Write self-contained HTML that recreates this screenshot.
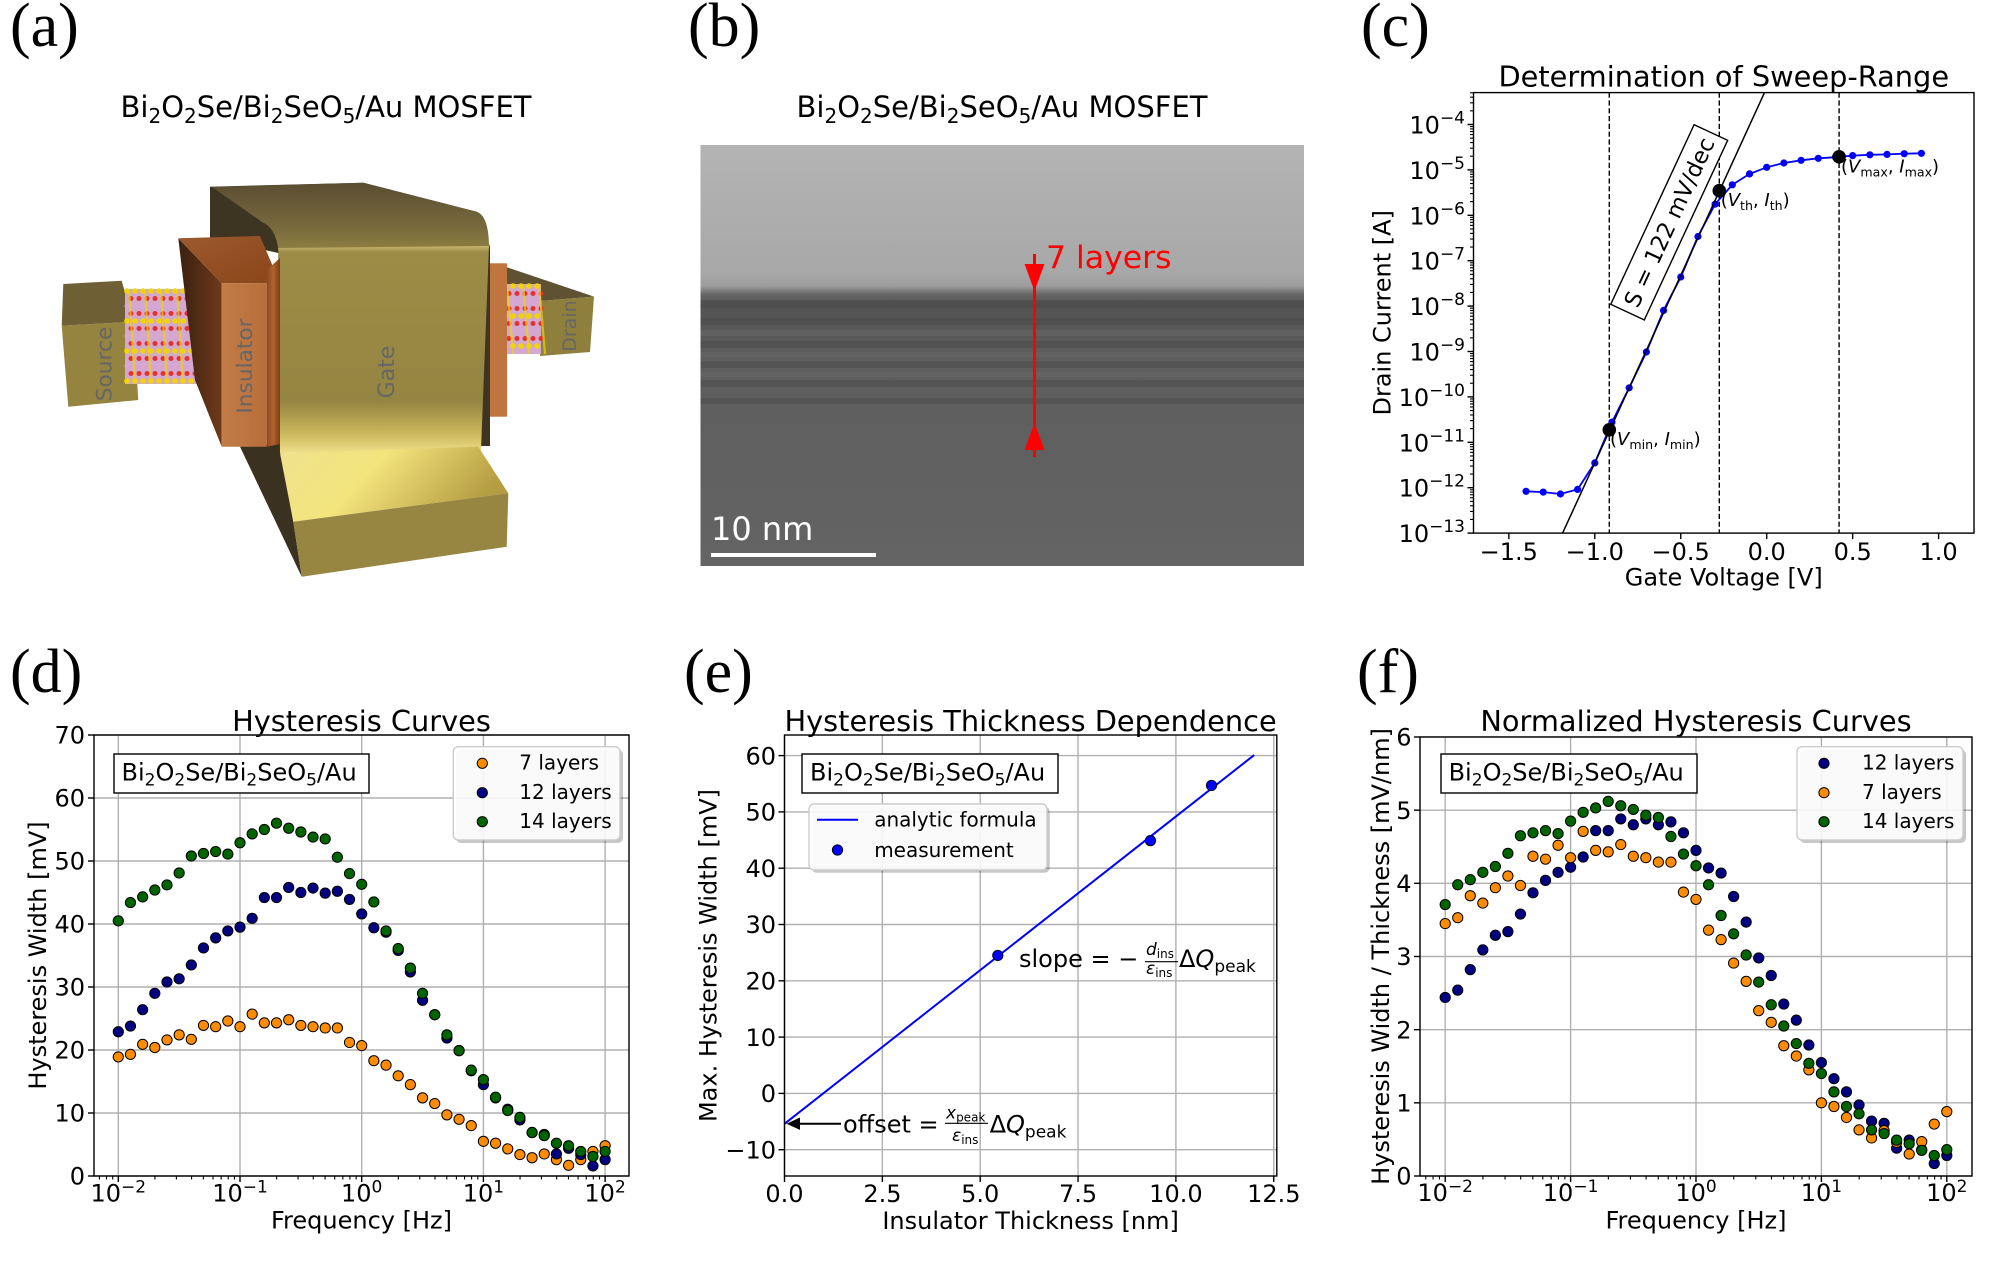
<!DOCTYPE html>
<html><head><meta charset="utf-8"><style>
html,body{margin:0;padding:0;background:#fff;}
svg{display:block;}
text{font-family:"DejaVu Sans","Liberation Sans",sans-serif;fill:#000;}
.serif{font-family:"Liberation Serif","DejaVu Serif",serif;}
</style></head><body>
<svg id="s" width="2000" height="1263" viewBox="0 0 2000 1263" xmlns="http://www.w3.org/2000/svg">
<defs>
<linearGradient id="tem" x1="0" y1="0" x2="0" y2="1">
<stop offset="0" stop-color="#b4b4b4"/><stop offset="0.3" stop-color="#a8a8a8"/><stop offset="0.335" stop-color="#9d9d9d"/><stop offset="0.355" stop-color="#666"/><stop offset="0.38" stop-color="#535353"/><stop offset="0.5" stop-color="#5d5d5d"/><stop offset="1" stop-color="#646464"/>
</linearGradient>
<linearGradient id="gtop" x1="0" y1="0" x2="0" y2="1"><stop offset="0" stop-color="#5a4d32"/><stop offset="0.7" stop-color="#7a6b3d"/><stop offset="1" stop-color="#8f7f42"/></linearGradient>
<linearGradient id="gfront" x1="0" y1="0" x2="0" y2="1"><stop offset="0" stop-color="#c9b86c"/><stop offset="0.03" stop-color="#9c8c46"/><stop offset="0.75" stop-color="#958542"/><stop offset="0.9" stop-color="#c9b55a"/><stop offset="1" stop-color="#efe08a"/></linearGradient>
<linearGradient id="foottop" x1="0" y1="0" x2="1" y2="0.3"><stop offset="0" stop-color="#efe28e"/><stop offset="0.45" stop-color="#f3e47c"/><stop offset="1" stop-color="#b59d42"/></linearGradient>
<linearGradient id="insleft" x1="0" y1="0" x2="1" y2="0"><stop offset="0" stop-color="#3a1f10"/><stop offset="1" stop-color="#6e3a1a"/></linearGradient>
<linearGradient id="instop" x1="0" y1="0" x2="1" y2="1"><stop offset="0" stop-color="#9c5a2e"/><stop offset="1" stop-color="#8a4518"/></linearGradient>
<linearGradient id="insfront" x1="0" y1="0" x2="1" y2="0"><stop offset="0" stop-color="#c27c48"/><stop offset="1" stop-color="#b86e3a"/></linearGradient>
<linearGradient id="insstrip" x1="0" y1="0" x2="1" y2="0"><stop offset="0" stop-color="#8a4820"/><stop offset="0.5" stop-color="#b0622c"/><stop offset="1" stop-color="#7a3c18"/></linearGradient>
<clipPath id="cclip"><rect x="1473.5" y="92.6" width="500.5" height="440.5"/></clipPath>
</defs>

<!-- panel labels -->
<text class="serif" x="10" y="46" font-size="62">(a)</text>
<text class="serif" x="688" y="46" font-size="62">(b)</text>
<text class="serif" x="1361" y="46" font-size="62">(c)</text>
<text class="serif" x="10" y="692" font-size="62">(d)</text>
<text class="serif" x="684" y="692" font-size="62">(e)</text>
<text class="serif" x="1357" y="692" font-size="62">(f)</text>

<!-- ===== (a) ===== -->
<text x="326" y="117" text-anchor="middle" font-size="29">Bi<tspan font-size="20" dy="6">2</tspan><tspan dy="-6">O</tspan><tspan font-size="20" dy="6">2</tspan><tspan dy="-6">Se/Bi</tspan><tspan font-size="20" dy="6">2</tspan><tspan dy="-6">SeO</tspan><tspan font-size="20" dy="6">5</tspan><tspan dy="-6">/Au MOSFET</tspan></text>
<g id="pa">
<polygon points="63.3,284 121.7,280.7 133.3,321.7 61.7,325.7" fill="#6e6034"/>
<polygon points="61.7,325.7 133.3,321.7 138.3,400 68.3,406.7" fill="#958340"/>
<polygon points="503,266 594,296.6 540,301 503,288" fill="#5f5232"/>
<polygon points="540,301 594,296.6 590,352 540,356" fill="#8f7f3d"/>
<g id="atomsL"></g>
<g id="atomsR"></g>
<rect x="484" y="263.3" width="23" height="153.4" fill="#c07540"/>
<polygon points="210,186.7 363.3,182.7 476.7,211.7 490,246.7 490,446 278.3,446 278.3,253 210,238" fill="#3e3422"/>
<path d="M212,187 L363.3,182.7 L476.7,211.7 Q489,216 489,248 L278.3,250 Q276,228 262,222 Z" fill="url(#gtop)"/>
<polygon points="240,446.7 280,443.3 293.3,521.7 301.7,576.7" fill="#3b3120"/>
<polygon points="278.3,248 489,246 481,450 280,453" fill="url(#gfront)"/>
<polygon points="280,453.3 478.3,446.7 508.3,493.3 293.3,521.7" fill="url(#foottop)"/>
<polygon points="293.3,521.7 508.3,493.3 506.7,546.7 301.7,576.7" fill="#978641"/>
<polygon points="178.3,238.3 221.7,283.3 221.7,446.7 195,380" fill="url(#insleft)"/>
<polygon points="178.3,238.3 260,236 280,283.3 221.7,283.3" fill="url(#instop)"/>
<polygon points="221.7,283.3 266.7,283.3 266.7,446.7 221.7,446.7" fill="url(#insfront)"/>
<polygon points="266.7,270 280,258 280,444 266.7,446.7" fill="url(#insstrip)"/>
<text transform="translate(111.5,364) rotate(-90)" text-anchor="middle" font-size="21.7" style="fill:#666">Source</text>
<text transform="translate(252,366) rotate(-90)" text-anchor="middle" font-size="21.7" style="fill:#666">Insulator</text>
<text transform="translate(394,372) rotate(-90)" text-anchor="middle" font-size="22" style="fill:#666">Gate</text>
<text transform="translate(576,326) rotate(-90)" text-anchor="middle" font-size="19" style="fill:#666">Drain</text>
</g>

<!-- ===== (b) ===== -->
<text x="1002" y="117" text-anchor="middle" font-size="29">Bi<tspan font-size="20" dy="6">2</tspan><tspan dy="-6">O</tspan><tspan font-size="20" dy="6">2</tspan><tspan dy="-6">Se/Bi</tspan><tspan font-size="20" dy="6">2</tspan><tspan dy="-6">SeO</tspan><tspan font-size="20" dy="6">5</tspan><tspan dy="-6">/Au MOSFET</tspan></text>
<rect x="700.5" y="145" width="603.5" height="421" fill="url(#tem)"/>
<g fill="#474747" opacity="0.4">
<rect x="700.5" y="300" width="603.5" height="8"/>
<rect x="700.5" y="318" width="603.5" height="7"/>
<rect x="700.5" y="341" width="603.5" height="7"/>
<rect x="700.5" y="361" width="603.5" height="7"/>
<rect x="700.5" y="380" width="603.5" height="7"/>
<rect x="700.5" y="398" width="603.5" height="6"/>
</g>
<g fill="#707070" opacity="0.3">
<rect x="700.5" y="330" width="603.5" height="6"/>
<rect x="700.5" y="352" width="603.5" height="5"/>
<rect x="700.5" y="372" width="603.5" height="5"/>
</g>
<line x1="1034.5" y1="254" x2="1034.5" y2="457" stroke="#ff0000" stroke-width="3"/>
<polygon points="1024.5,264 1044.5,264 1034.5,291" fill="#ff0000"/>
<polygon points="1024.5,450 1044.5,450 1034.5,423" fill="#ff0000"/>
<text x="1046" y="268" font-size="31.5" style="fill:#ff0000">7 layers</text>
<text x="711" y="540" font-size="32" style="fill:#ffffff">10 nm</text>
<rect x="711" y="553" width="165" height="4" fill="#ffffff"/>

<!-- ===== (c) ===== -->
<text x="1723.75" y="86.5" text-anchor="middle" font-size="28.8">Determination of Sweep-Range</text>
<g id="pc"></g>
<g transform="translate(1669.2,222.3) rotate(-65.1)"><rect x="-99" y="-18.5" width="198" height="37" fill="#fff" stroke="#000" stroke-width="1.4"/><text x="0" y="8" text-anchor="middle" font-size="22.6">S = 122 mV/dec</text></g>
<g id="pc2"></g>
<text x="1841" y="172.7" font-size="18">(<tspan font-style="italic">V</tspan><tspan font-size="12.6" dy="4">max</tspan><tspan dy="-4">, </tspan><tspan font-style="italic">I</tspan><tspan font-size="12.6" dy="4">max</tspan><tspan dy="-4">)</tspan></text>
<text x="1720.7" y="206" font-size="18">(<tspan font-style="italic">V</tspan><tspan font-size="12.6" dy="4">th</tspan><tspan dy="-4">, </tspan><tspan font-style="italic">I</tspan><tspan font-size="12.6" dy="4">th</tspan><tspan dy="-4">)</tspan></text>
<text x="1610" y="444.8" font-size="18">(<tspan font-style="italic">V</tspan><tspan font-size="12.6" dy="4">min</tspan><tspan dy="-4">, </tspan><tspan font-style="italic">I</tspan><tspan font-size="12.6" dy="4">min</tspan><tspan dy="-4">)</tspan></text>
<g font-size="24" text-anchor="end">
<text x="1465" y="133.5">10<tspan dy="-10" font-size="17">−4</tspan></text>
<text x="1465" y="178.9">10<tspan dy="-10" font-size="17">−5</tspan></text>
<text x="1465" y="224.3">10<tspan dy="-10" font-size="17">−6</tspan></text>
<text x="1465" y="269.7">10<tspan dy="-10" font-size="17">−7</tspan></text>
<text x="1465" y="315.1">10<tspan dy="-10" font-size="17">−8</tspan></text>
<text x="1465" y="360.5">10<tspan dy="-10" font-size="17">−9</tspan></text>
<text x="1465" y="405.9">10<tspan dy="-10" font-size="17">−10</tspan></text>
<text x="1465" y="451.3">10<tspan dy="-10" font-size="17">−11</tspan></text>
<text x="1465" y="496.7">10<tspan dy="-10" font-size="17">−12</tspan></text>
<text x="1465" y="542.1">10<tspan dy="-10" font-size="17">−13</tspan></text>
</g>
<g font-size="24" text-anchor="middle">
<text x="1508.8" y="560">−1.5</text>
<text x="1594.8" y="560">−1.0</text>
<text x="1680.7" y="560">−0.5</text>
<text x="1766.7" y="560">0.0</text>
<text x="1852.7" y="560">0.5</text>
<text x="1938.6" y="560">1.0</text>
</g>
<text x="1723.75" y="585.5" text-anchor="middle" font-size="24">Gate Voltage [V]</text>
<text transform="translate(1390.5,312.8) rotate(-90)" text-anchor="middle" font-size="24">Drain Current [A]</text>

<!-- ===== (d) ===== -->
<text x="361.5" y="731" text-anchor="middle" font-size="28.8">Hysteresis Curves</text>
<g id="pd"></g>
<rect x="114" y="754" width="255" height="39" fill="#fff" stroke="#000" stroke-width="1.4"/>
<text x="121.5" y="780.7" font-size="24">Bi<tspan font-size="17" dy="5">2</tspan><tspan dy="-5">O</tspan><tspan font-size="17" dy="5">2</tspan><tspan dy="-5">Se/Bi</tspan><tspan font-size="17" dy="5">2</tspan><tspan dy="-5">SeO</tspan><tspan font-size="17" dy="5">5</tspan><tspan dy="-5">/Au</tspan></text>
<rect x="456" y="749.5" width="167" height="93.5" rx="5" fill="#000" opacity="0.22"/>
<rect x="453.3" y="746.7" width="166.7" height="93.3" rx="5" fill="#fff" fill-opacity="0.9" stroke="#cccccc" stroke-width="1.4"/>
<circle cx="482.3" cy="763.3" r="5.1" fill="#ff8c00" stroke="#000" stroke-width="1"/>
<circle cx="482.3" cy="792.7" r="5.1" fill="#000080" stroke="#000" stroke-width="1"/>
<circle cx="482.3" cy="821.7" r="5.1" fill="#006400" stroke="#000" stroke-width="1"/>
<g font-size="20"><text x="519.3" y="769.6">7 layers</text><text x="519.3" y="799">12 layers</text><text x="519.3" y="828">14 layers</text></g>
<g font-size="24" text-anchor="end">
<text x="85" y="1184.7">0</text><text x="85" y="1121.7">10</text><text x="85" y="1058.7">20</text><text x="85" y="995.7">30</text><text x="85" y="932.7">40</text><text x="85" y="869.7">50</text><text x="85" y="806.7">60</text><text x="85" y="743.7">70</text>
</g>
<g font-size="24" text-anchor="middle">
<text x="118.3" y="1201.5">10<tspan dy="-9" font-size="17">−2</tspan></text>
<text x="240" y="1201.5">10<tspan dy="-9" font-size="17">−1</tspan></text>
<text x="361.7" y="1201.5">10<tspan dy="-9" font-size="17">0</tspan></text>
<text x="483.4" y="1201.5">10<tspan dy="-9" font-size="17">1</tspan></text>
<text x="605.1" y="1201.5">10<tspan dy="-9" font-size="17">2</tspan></text>
</g>
<text x="361.5" y="1228.5" text-anchor="middle" font-size="24">Frequency [Hz]</text>
<text transform="translate(46,955.5) rotate(-90)" text-anchor="middle" font-size="24">Hysteresis Width [mV]</text>

<!-- ===== (e) ===== -->
<text x="1030.6" y="731" text-anchor="middle" font-size="28.8">Hysteresis Thickness Dependence</text>
<g id="pe"></g>
<rect x="802" y="754" width="256" height="39" fill="#fff" stroke="#000" stroke-width="1.4"/>
<text x="810" y="780.7" font-size="24">Bi<tspan font-size="17" dy="5">2</tspan><tspan dy="-5">O</tspan><tspan font-size="17" dy="5">2</tspan><tspan dy="-5">Se/Bi</tspan><tspan font-size="17" dy="5">2</tspan><tspan dy="-5">SeO</tspan><tspan font-size="17" dy="5">5</tspan><tspan dy="-5">/Au</tspan></text>
<rect x="811.7" y="806.7" width="238" height="66" rx="5" fill="#000" opacity="0.22"/>
<rect x="809" y="804" width="238" height="66" rx="5" fill="#fff" fill-opacity="0.9" stroke="#cccccc" stroke-width="1.4"/>
<line x1="817" y1="819.7" x2="858" y2="819.7" stroke="#0000ff" stroke-width="2"/>
<circle cx="837.5" cy="850" r="5.1" fill="#0000ff" stroke="#000020" stroke-width="1"/>
<g font-size="20"><text x="874.2" y="826.5">analytic formula</text><text x="874.2" y="857">measurement</text></g>
<!-- slope formula -->
<text x="1019" y="967" font-size="24">slope = −</text>
<text x="1146" y="955" font-size="17" font-style="italic">d<tspan font-size="12" font-style="normal" dy="3">ins</tspan></text>
<line x1="1145" y1="961.7" x2="1178" y2="961.7" stroke="#000" stroke-width="1.2"/>
<text x="1146" y="974" font-size="17" font-style="italic">ε<tspan font-size="12" font-style="normal" dy="3">ins</tspan></text>
<text x="1179" y="967" font-size="24">Δ<tspan font-style="italic">Q</tspan><tspan font-size="17" dy="5">peak</tspan></text>
<!-- offset formula -->
<line x1="841" y1="1123.7" x2="796" y2="1123.7" stroke="#000" stroke-width="2"/>
<polygon points="786.5,1123.7 800,1117.5 800,1129.9" fill="#000"/>
<text x="843" y="1132.6" font-size="24">offset =</text>
<text x="946" y="1118.5" font-size="17" font-style="italic">x<tspan font-size="12" font-style="normal" dy="3">peak</tspan></text>
<line x1="945" y1="1123.3" x2="988" y2="1123.3" stroke="#000" stroke-width="1.2"/>
<text x="952" y="1141" font-size="17" font-style="italic">ε<tspan font-size="12" font-style="normal" dy="3">ins</tspan></text>
<text x="989.6" y="1132.6" font-size="24">Δ<tspan font-style="italic">Q</tspan><tspan font-size="17" dy="5">peak</tspan></text>
<g font-size="24" text-anchor="end">
<text x="776" y="1158.4">−10</text><text x="776" y="1102.1">0</text><text x="776" y="1045.8">10</text><text x="776" y="989.5">20</text><text x="776" y="933.2">30</text><text x="776" y="876.9">40</text><text x="776" y="820.6">50</text><text x="776" y="764.3">60</text>
</g>
<g font-size="24" text-anchor="middle">
<text x="784.5" y="1202">0.0</text><text x="882.4" y="1202">2.5</text><text x="980.2" y="1202">5.0</text><text x="1078.1" y="1202">7.5</text><text x="1175.9" y="1202">10.0</text><text x="1273.8" y="1202">12.5</text>
</g>
<text x="1030.6" y="1228.8" text-anchor="middle" font-size="24">Insulator Thickness [nm]</text>
<text transform="translate(716.5,955.5) rotate(-90)" text-anchor="middle" font-size="24">Max. Hysteresis Width [mV]</text>

<!-- ===== (f) ===== -->
<text x="1696" y="731" text-anchor="middle" font-size="28.8">Normalized Hysteresis Curves</text>
<g id="pf"></g>
<rect x="1441" y="754" width="256" height="39" fill="#fff" stroke="#000" stroke-width="1.4"/>
<text x="1448.6" y="780.7" font-size="24">Bi<tspan font-size="17" dy="5">2</tspan><tspan dy="-5">O</tspan><tspan font-size="17" dy="5">2</tspan><tspan dy="-5">Se/Bi</tspan><tspan font-size="17" dy="5">2</tspan><tspan dy="-5">SeO</tspan><tspan font-size="17" dy="5">5</tspan><tspan dy="-5">/Au</tspan></text>
<rect x="1799.7" y="749.5" width="166.3" height="93.5" rx="5" fill="#000" opacity="0.22"/>
<rect x="1797" y="746.7" width="166" height="93.3" rx="5" fill="#fff" fill-opacity="0.9" stroke="#cccccc" stroke-width="1.4"/>
<circle cx="1824" cy="763.3" r="5.1" fill="#000080" stroke="#000" stroke-width="1"/>
<circle cx="1824" cy="792.7" r="5.1" fill="#ff8c00" stroke="#000" stroke-width="1"/>
<circle cx="1824" cy="821.7" r="5.1" fill="#006400" stroke="#000" stroke-width="1"/>
<g font-size="20"><text x="1862" y="769.6">12 layers</text><text x="1862" y="799">7 layers</text><text x="1862" y="828">14 layers</text></g>
<g font-size="24" text-anchor="end">
<text x="1411.5" y="1184.7">0</text><text x="1411.5" y="1111.5">1</text><text x="1411.5" y="1038.4">2</text><text x="1411.5" y="965.2">3</text><text x="1411.5" y="892">4</text><text x="1411.5" y="818.9">5</text><text x="1411.5" y="745.7">6</text>
</g>
<g font-size="24" text-anchor="middle">
<text x="1445.2" y="1201">10<tspan dy="-9" font-size="17">−2</tspan></text>
<text x="1570.6" y="1201">10<tspan dy="-9" font-size="17">−1</tspan></text>
<text x="1696" y="1201">10<tspan dy="-9" font-size="17">0</tspan></text>
<text x="1821.4" y="1201">10<tspan dy="-9" font-size="17">1</tspan></text>
<text x="1946.8" y="1201">10<tspan dy="-9" font-size="17">2</tspan></text>
</g>
<text x="1696" y="1228.5" text-anchor="middle" font-size="24">Frequency [Hz]</text>
<text transform="translate(1389,956.5) rotate(-90)" text-anchor="middle" font-size="24">Hysteresis Width / Thickness [mV/nm]</text>
</svg>
<script>
(function(){
var NS='http://www.w3.org/2000/svg';
function el(t,a,p){var e=document.createElementNS(NS,t);for(var k in a)e.setAttribute(k,a[k]);p.appendChild(e);return e;}
function ln(p,x1,y1,x2,y2,st,w,ex){var a={x1:x1,y1:y1,x2:x2,y2:y2,stroke:st,'stroke-width':w};if(ex)for(var k in ex)a[k]=ex[k];return el('line',a,p);}
var GRID='#b0b0b0',OR='#ff8c00',NV='#000080',GR='#006400';

function atoms(p,x0,x1,y0,y1){
  var cols=['#f2d400','#e63030','#d9a6d6','#e63030'];
  var row=0;
  el('rect',{x:x0,y:y0,width:x1-x0,height:y1-y0,fill:'#d2a8cf'},p);
  for(var y=y0+2;y<=y1-1;y+=7.5){
    var off=(row%2)*4;
    for(var x=x0+2;x<=x1-1;x+=8){
      el('circle',{cx:x+off,cy:y,r:(row%4==0?2.8:2.5),fill:cols[row%4]},p);
    }
    row++;
  }
  for(var x=x0+4;x<=x1;x+=16){el('line',{x1:x,y1:y0,x2:x+6,y2:y1,stroke:'#f2d400','stroke-width':2.2,opacity:0.7},p);}
}
atoms(document.getElementById('atomsL'),125,214,289,384);
atoms(document.getElementById('atomsR'),503,541,284,354);

function logPanel(p,o){
  var k,m,x,y;
  for(k=-2;k<=2;k++){x=o.x0+(k+2)*o.dec;ln(p,x,o.T,x,o.B,GRID,1.4);}
  o.yt.forEach(function(v){y=o.yf(v);ln(p,o.L,y,o.R,y,GRID,1.4);});
  o.series.forEach(function(s){s.d.forEach(function(v,i){x=o.x0+i*0.1*o.dec;el('circle',{cx:x,cy:o.yf(v),r:5.1,fill:s.c,stroke:'#000','stroke-width':1},p);});});
  for(k=-3;k<=2;k++){for(m=1;m<10;m++){var lg=k+Math.log10(m);x=o.x0+(lg+2)*o.dec;if(x<o.L-0.1||x>o.R+0.1)continue;if(m==1)ln(p,x,o.B,x,o.B+6,'#000',1.4);else ln(p,x,o.B,x,o.B+3.5,'#000',1.1);}}
  o.yt.forEach(function(v){y=o.yf(v);ln(p,o.L-6,y,o.L,y,'#000',1.4);});
  el('rect',{x:o.L,y:o.T,width:o.R-o.L,height:o.B-o.T,fill:'none',stroke:'#000','stroke-width':1.4},p);
}
var o7=[18.9,19.3,20.9,20.4,21.6,22.4,21.7,23.9,23.7,24.6,23.7,25.7,24.3,24.3,24.8,23.9,23.7,23.5,23.5,21.2,20.7,18.3,17.6,15.9,14.5,12.4,11.5,9.7,9.0,8.0,5.5,5.2,4.3,3.4,2.9,3.5,2.6,1.7,2.6,3.9,4.8];
var n12=[22.9,23.8,26.4,29.0,30.8,31.3,33.5,36.2,37.8,38.9,39.5,40.9,44.2,44.2,45.8,45.0,45.7,44.9,45.2,43.9,41.6,39.4,38.7,35.8,32.4,27.9,25.6,21.9,19.9,16.7,14.5,12.4,10.6,8.9,6.9,6.6,3.5,4.4,3.4,1.6,2.6];
var g14=[40.5,43.4,44.3,45.4,46.2,48.1,50.8,51.2,51.5,51.1,52.9,54.3,55.0,56.0,55.2,54.6,53.8,53.5,50.6,48.0,46.3,43.5,38.9,36.1,33.0,29.0,25.6,22.4,19.9,16.8,15.3,12.5,10.4,9.3,6.9,6.4,5.2,4.8,3.9,3.1,3.9];
logPanel(document.getElementById('pd'),{x0:118.3,dec:121.7,L:94,R:629,T:735,B:1176,yf:function(v){return 1176-v*6.3;},yt:[0,10,20,30,40,50,60,70],
  series:[{c:OR,d:o7},{c:NV,d:n12},{c:GR,d:g14}]});
var nF=[2.44,2.54,2.82,3.09,3.29,3.34,3.58,3.87,4.04,4.15,4.22,4.36,4.72,4.72,4.88,4.80,4.88,4.80,4.84,4.69,4.45,4.21,4.14,3.82,3.47,2.98,2.74,2.35,2.13,1.79,1.55,1.33,1.15,0.97,0.75,0.72,0.38,0.49,0.36,0.17,0.28];
var oF=[3.45,3.53,3.83,3.73,3.94,4.10,3.97,4.37,4.33,4.52,4.35,4.71,4.45,4.43,4.53,4.37,4.35,4.29,4.29,3.88,3.78,3.36,3.23,2.91,2.66,2.26,2.10,1.78,1.64,1.45,1.00,0.95,0.80,0.63,0.52,0.62,0.46,0.30,0.47,0.71,0.88];
var gF=[3.71,3.98,4.05,4.15,4.23,4.41,4.65,4.69,4.72,4.68,4.85,4.97,5.03,5.12,5.06,5.01,4.93,4.90,4.64,4.40,4.24,3.98,3.56,3.31,3.02,2.65,2.34,2.05,1.81,1.54,1.40,1.15,0.95,0.85,0.63,0.58,0.49,0.44,0.35,0.28,0.36];
logPanel(document.getElementById('pf'),{x0:1445.2,dec:125.4,L:1420,R:1972,T:737,B:1176,yf:function(v){return 1176-v*73.17;},yt:[0,1,2,3,4,5,6],
  series:[{c:NV,d:nF},{c:OR,d:oF},{c:GR,d:gF}]});

(function(){
  var p=document.getElementById('pe');
  var L=784.5,R=1276.8,T=735,B=1176;
  function X(t){return 784.5+t*39.14;} function Y(v){return 1093.4-v*5.63;}
  var xt=[0,2.5,5,7.5,10,12.5],yt=[-10,0,10,20,30,40,50,60];
  xt.forEach(function(t){ln(p,X(t),T,X(t),B,GRID,1.4);});
  yt.forEach(function(v){ln(p,L,Y(v),R,Y(v),GRID,1.4);});
  ln(p,X(0),Y(-5.4),X(12),Y(60.1),'#0000ff',2);
  [[5.45,24.5],[9.35,44.9],[10.91,54.7]].forEach(function(d){el('circle',{cx:X(d[0]),cy:Y(d[1]),r:5.1,fill:'#0000ff',stroke:'#000020','stroke-width':1},p);});
  xt.forEach(function(t){ln(p,X(t),B,X(t),B+6,'#000',1.4);});
  yt.forEach(function(v){ln(p,L-6,Y(v),L,Y(v),'#000',1.4);});
  el('rect',{x:L,y:T,width:R-L,height:B-T,fill:'none',stroke:'#000','stroke-width':1.4},p);
})();

(function(){
  var p=document.getElementById('pc'),p2=document.getElementById('pc2');
  var L=1473.5,R=1974,T=92.6,B=533.1;
  function X(v){return 1766.7+v*171.9;} function Y(lg){return 124.5+(-4-lg)*45.4;}
  [1609.3,1719.3,1839.1].forEach(function(x){ln(p,x,T,x,B,'#000',1.4,{'stroke-dasharray':'5.2,2.6'});});
  var ys=[491.3,492.1,494.0,489.4,462.9,422.1,387.8,352.0,310.4,277.0,236.5,204.2,184.8,173.9,167.3,163.0,160.3,158.3,157.2,155.6,154.8,154.4,153.7,153.3];
  var pts=ys.map(function(y,i){return [X(-1.4+i*0.1),y];});
  el('polyline',{points:pts.map(function(q){return q[0].toFixed(1)+','+q[1];}).join(' '),fill:'none',stroke:'#0000ff','stroke-width':1.8},p);
  pts.forEach(function(q){el('circle',{cx:q[0],cy:q[1],r:3.6,fill:'#0000ff'},p);});
  ln(p,1562.6,B,1764.5,T,'#000',1.5,{'clip-path':'url(#cclip)'});
  [[1609.3,429.8],[1719.3,190.7],[1839.1,156.8]].forEach(function(q){el('circle',{cx:q[0],cy:q[1],r:6.8,fill:'#000'},p2);});
  for(var k=-13;k<=-3;k++){for(var m=1;m<10;m++){var lg=k+Math.log10(m);var y=Y(lg);if(y<T-0.1||y>B+0.1)continue;if(m==1)ln(p2,L-6,y,L,y,'#000',1.4);else ln(p2,L-3.5,y,L,y,'#000',1.1);}}
  [-1.5,-1,-0.5,0,0.5,1].forEach(function(v){ln(p2,X(v),B,X(v),B+6,'#000',1.4);});
  el('rect',{x:L,y:T,width:R-L,height:B-T,fill:'none',stroke:'#000','stroke-width':1.4},p2);
})();
})();
</script>
</body></html>
